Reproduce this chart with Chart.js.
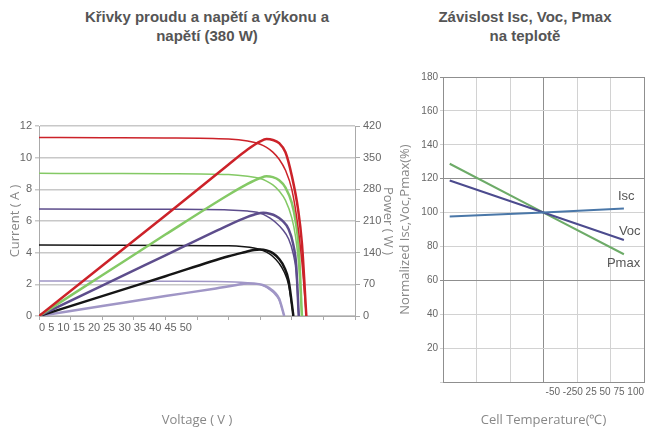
<!DOCTYPE html>
<html>
<head>
<meta charset="utf-8">
<script src="https://cdn.jsdelivr.net/npm/chart.js@4.4.0/dist/chart.umd.min.js"></script>
<style>
  body { margin: 0; background: #fff; }
  #wrap { position: relative; width: 654px; height: 430px; font-family: "Liberation Sans", Arial, sans-serif; }
  .title { position: absolute; top: 7px; font-weight: bold; font-size: 15px; line-height: 19px; color: #555; text-align: center; white-space: nowrap; }
  .box { position: absolute; top: 0; height: 430px; }
</style>
</head>
<body>
<div id="wrap">
  <div class="title" style="left:57px;width:300px">Křivky proudu a napětí a výkonu a<br>napětí (380 W)</div>
  <div class="title" style="left:425px;width:200px">Závislost Isc, Voc, Pmax<br>na teplotě</div>
  <div class="box" style="left:0;width:400px"><canvas id="ivChart"></canvas></div>
  <div class="box" style="left:392px;width:262px"><canvas id="tempChart"></canvas></div>
</div>
<script>
// --- data: I-V a P-V krivky (napeti V, proud A, vykon W) ---
const vRed = [0, 10, 20, 30, 33, 35, 36, 37, 38, 39, 40, 41, 41.6, 42.3]
const iRed = [11.27, 11.26, 11.25, 11.18, 11.05, 10.85, 10.65, 10.35, 9.9, 9.2, 8.0, 5.6, 3.4, 0]
const pRed = [0, 111, 222, 335, 368, 386, 391, 389, 382, 362, 310, 235, 161, 0]

const vGreen = [0, 10, 20, 30, 33, 35, 36, 37, 38, 39, 40, 40.6, 41.1, 41.6]
const iGreen = [9.01, 9.0, 8.99, 8.93, 8.82, 8.68, 8.52, 8.28, 7.9, 7.3, 6.2, 5.0, 3.2, 0]
const pGreen = [0, 90, 180, 268, 292, 305, 309, 307, 300, 284, 250, 210, 150, 0]

const vPurple = [0, 10, 20, 30, 33, 34.5, 35.5, 36.5, 37.5, 38.5, 39.5, 40.2, 40.7, 41.1]
const iPurple = [6.76, 6.75, 6.74, 6.70, 6.63, 6.55, 6.42, 6.19, 5.89, 5.48, 4.86, 3.98, 2.75, 0]
const pPurple = [0, 67, 134, 201, 219, 226, 228, 226, 221, 211, 192, 160, 112, 0]

const vBlack = [0, 10, 20, 30, 32.5, 34, 35, 36, 37, 38, 38.8, 39.5, 40.25]
const iBlack = [4.48, 4.47, 4.46, 4.44, 4.38, 4.30, 4.20, 4.03, 3.76, 3.32, 2.78, 1.97, 0]
const pBlack = [0, 44, 88, 132, 141, 146, 147, 145, 139, 126, 108, 78, 0]

const vLight = [0, 10, 20, 28, 31, 33, 34.5, 35.5, 36.5, 37.3, 38, 38.8]
const iLight = [2.21, 2.21, 2.20, 2.18, 2.15, 2.10, 2.04, 1.92, 1.67, 1.39, 1.0, 0]
const pLight = [0, 22, 44, 61, 68, 72, 71, 68, 61, 52, 38, 0]

const voltTicks = ['0', '5', '10', '15', '20', '25', '30', '35', '40', '45', '50']

// --- data: zavislost na teplote ---
const tempC = [-45, 25, 85]
const iscPct = [97.6, 100, 102.4]
const vocPct = [118.9, 100, 83.8]
const pmaxPct = [128.8, 100, 75.4]
const tempTicks = ['-50', '-250', '25', '50', '75', '100']
const lineNames = ['Isc', 'Voc', 'Pmax']

const tickFont = { family: '"Liberation Sans", Arial, sans-serif', size: 11 }
const titleFont = { family: '"Open Sans", sans-serif', size: 13 }

const pts = (xs, ys) => xs.map((v, k) => ({ x: v, y: ys[k] }))

const curves = [
  { color: '#cc2229', v: vRed, i: iRed, p: pRed },
  { color: '#84c965', v: vGreen, i: iGreen, p: pGreen },
  { color: '#5d4d8c', v: vPurple, i: iPurple, p: pPurple },
  { color: '#151515', v: vBlack, i: iBlack, p: pBlack },
  { color: '#a096c6', v: vLight, i: iLight, p: pLight }
]

let ivSets = []
curves.forEach(c => {
  ivSets.push({ data: pts(c.v, c.i), borderColor: c.color, borderWidth: 1.5, yAxisID: 'y' })
  ivSets.push({ data: pts(c.v, c.p), borderColor: c.color, borderWidth: 2.5, yAxisID: 'y1' })
})

let ivChart = new Chart(document.getElementById('ivChart'), {
  type: 'line',
  data: { datasets: ivSets },
  options: {
    responsive: true,
    maintainAspectRatio: false,
    animation: false,
    layout: { padding: { top: 126, left: 0, right: 0, bottom: 0 } },
    elements: { point: { radius: 0 }, line: { cubicInterpolationMode: 'monotone' } },
    plugins: { legend: { display: false }, tooltip: { enabled: false } },
    scales: {
      x: {
        type: 'linear', min: 0, max: 50,
        ticks: {
          stepSize: 5, autoSkip: false, maxRotation: 0, minRotation: 0, align: 'start', padding: 1,
          color: '#666', font: tickFont,
          callback: (v, k) => k === 0 ? voltTicks.join(' ') : ''
        },
        grid: { drawOnChartArea: false, color: '#aaa', tickLength: 4 },
        border: { color: '#aaa' },
        title: { display: true, text: 'Voltage ( V )', color: '#888', font: titleFont, padding: { top: 0, bottom: 2 } },
        afterFit: s => { s.height = 114 }
      },
      y: {
        min: 0, max: 12,
        ticks: { stepSize: 2, color: '#666', font: tickFont, padding: 3 },
        grid: { color: '#c8c8c8', lineWidth: 1.5, tickLength: 4 },
        border: { color: '#aaa' },
        title: { display: true, text: 'Current ( A )', color: '#888', font: titleFont, padding: { top: 7, bottom: 0 } },
        afterFit: s => { s.width = 39 }
      },
      y1: {
        position: 'right', min: 0, max: 420,
        ticks: { stepSize: 70, color: '#666', font: tickFont, padding: 3 },
        grid: { drawOnChartArea: false, color: '#aaa', tickLength: 5 },
        border: { color: '#aaa' },
        title: { display: true, text: 'Power ( W )', color: '#888', font: titleFont, padding: { top: 4, bottom: 0 } },
        afterFit: s => { s.width = 45 }
      }
    }
  }
})

// popisky Isc / Voc / Pmax u konce car
const endLabels = {
  id: 'endLabels',
  afterDatasetsDraw(chart) {
    const ctx = chart.ctx
    const shift = [[-6, -12], [-5, -9], [-17, 9]]
    ctx.save()
    ctx.font = '13px "Liberation Sans", Arial, sans-serif'
    ctx.fillStyle = '#555'
    ctx.textAlign = 'left'
    ctx.textBaseline = 'middle'
    chart.data.datasets.forEach((ds, k) => {
      const pts = chart.getDatasetMeta(k).data
      const last = pts[pts.length - 1]
      ctx.fillText(lineNames[k], last.x + shift[k][0], last.y + shift[k][1])
    })
    ctx.restore()
  }
}

const darkY = [60, 120, 180]
const darkX = [25, 100]

let tempChart = new Chart(document.getElementById('tempChart'), {
  type: 'line',
  data: {
    datasets: [
      { data: pts(tempC, iscPct), borderColor: '#4a77a8', borderWidth: 2 },
      { data: pts(tempC, vocPct), borderColor: '#4c4b8e', borderWidth: 2 },
      { data: pts(tempC, pmaxPct), borderColor: '#6dab68', borderWidth: 2 }
    ]
  },
  options: {
    responsive: true,
    maintainAspectRatio: false,
    animation: false,
    layout: { padding: { top: 77, left: 0, right: 10, bottom: 0 } },
    elements: { point: { radius: 0 } },
    plugins: { legend: { display: false }, tooltip: { enabled: false } },
    scales: {
      x: {
        type: 'linear', min: -50, max: 100,
        ticks: {
          stepSize: 25, autoSkip: false, maxRotation: 0, minRotation: 0, align: 'end', padding: 4,
          color: '#666', font: { family: tickFont.family, size: 10 },
          callback: (v, k, all) => k === all.length - 1 ? tempTicks.join(' ') : ''
        },
        grid: { color: c => darkX.includes(c.tick.value) ? '#8f8f8f' : '#d2d2d2', drawTicks: false },
        border: { color: '#8f8f8f' },
        title: { display: true, text: 'Cell Temperature(℃)', color: '#888', font: titleFont, padding: { top: 0, bottom: 2 } },
        afterFit: s => { s.height = 48 }
      },
      y: {
        min: 0, max: 180,
        ticks: { stepSize: 20, color: '#666', font: { family: tickFont.family, size: 10 }, padding: 2,
          callback: v => v === 0 ? '' : v },
        grid: { color: c => darkY.includes(c.tick.value) ? '#8f8f8f' : '#d2d2d2', tickLength: 3 },
        border: { color: '#8f8f8f' },
        title: { display: true, text: 'Normalized Isc,Voc,Pmax(%)', color: '#888', font: titleFont, padding: { top: 5, bottom: 0 } },
        afterFit: s => { s.width = 51 }
      }
    }
  },
  plugins: [endLabels]
})
</script>
</body>
</html>
